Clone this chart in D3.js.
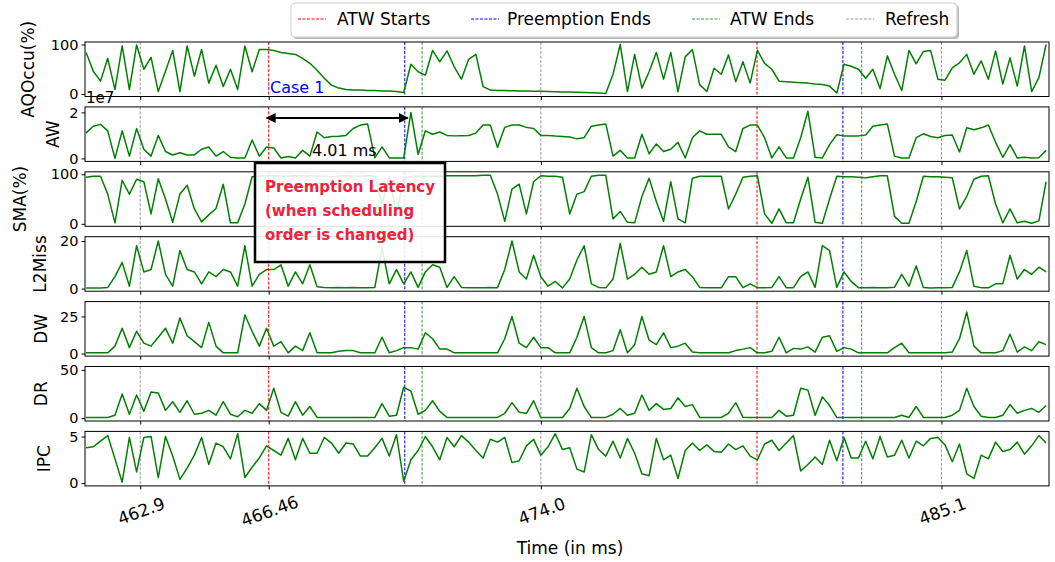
<!DOCTYPE html>
<meta charset="utf-8">

<style>
    body { margin: 0; background: #fff; }
    svg text { font-family: "DejaVu Sans", sans-serif; }
</style>

<body>

<script src="https://d3js.org/d3.v7.min.js"></script>

<script>

// samples are 0.2 ms apart, starting at 461.4 ms
var sampleStart = 461.4;
var sampleStep = 0.2;

var aqOccu = [84,46,26,72,9,97,9,99,50,74,
    5,46,88,5,97,36,90,22,58,15,
    50,9,97,45,90,90,88,84,82,80,
    72,62,48,32,18,12,9,8,8,7,
    7,6,6,5,3,60,45,38,88,65,
    87,55,30,70,80,15,8,7,7,6.5,
    6,6,5.7,5.5,5,4.5,4.3,4,3.5,3,
    2.5,2,1,40,100,5,80,12,45,84,
    30,84,5,75,90,19,5,52,40,79,
    25,65,22,88,62,50,26,25,24,23,
    22,20,19,16,2,60,56,50,32,50,
    11,77,40,7,88,61,86,88,30,28,
    53,63,80,40,67,30,87,20,73,16,
    97,5,33,100];

// AW in units of 1e7
var aw = [1.11,1.4,1.48,1.2,0,1.2,0.1,1.3,0.4,0.1,
    1.0,0.3,0.15,0.25,0.15,0.15,0.4,0.5,0.1,0.3,
    0.05,0.02,0.02,0.8,0.1,0.5,0.45,0.02,0.08,0.02,
    0.35,0.1,1.15,0.9,0.95,0.96,1.0,1.3,1.45,1.5,
    0.02,0.5,0.02,0.02,0.02,2.0,0.17,1.2,1.05,1.15,
    1.0,0.98,0.99,1.0,1.1,1.45,1.45,0.48,1.35,1.45,
    1.45,1.35,1.3,1.0,1.0,0.97,0.95,0.93,0.85,0.9,
    1.4,1.45,1.5,0.1,0.35,0.02,0.02,1.05,0.2,0.63,
    0.3,0.4,0.7,0.02,0.9,1.2,1.05,1.05,1.05,0.5,
    0.3,1.3,1.45,1.45,0.9,0.02,0.5,0.02,0.02,0.9,
    2.05,0.05,0.02,0.6,1.03,0.98,0.98,0.98,1.02,1.4,
    1.45,1.5,0.1,0.02,0.02,0.9,1.07,0.95,0.9,1.0,
    1.02,0.28,1.33,1.25,1.33,1.45,0.7,0.05,0.6,0.02,
    0.05,0.02,0.03,0.35];

var sma = [94,96,96,60,2,88,60,90,85,20,
    91,50,3,60,78,30,4,18,31,80,
    2,2,40,95,96,97,97,96,96,97,
    96,97,96,96,95,96,97,96,96,97,
    96,40,95,20,90,96,96,96,96,96,
    97,97,97,97,97,98,98,60,5,70,
    80,20,85,97,96,96,94,20,60,65,
    96,98,98,10,25,3,2,55,92,45,
    5,85,10,2,92,96,96,96,96,30,
    60,94,96,97,20,1,30,2,2,50,
    94,3,1,50,96,95,95,94,93,95,
    97,97,15,1,1,45,96,95,95,94,
    93,30,55,90,96,97,40,2,30,2,
    5,1,6,85];

var l2Miss = [0.2,0.2,0.2,0.5,5,11,1,18,7,8,
    20,6,1,16,8,7,2,7,5,8,
    7,1,18,1,6,8,8,10,1,7,
    2,10,0.8,0.5,0.3,0.5,0.4,0.5,0.3,0.4,
    0.5,17,2,8,2,7,0.5,7,10,9,
    0.5,5,0.5,0.3,0.4,0.3,0.5,0.4,8,20,
    7,4,14,5,1,3,0.3,4,12,18,
    2,0.5,0.3,4,19,4,6,9,6,7,
    18,5,7,8,5,0.5,0.4,0.3,0.3,5,
    5,0.4,2,0.4,0.4,0.5,5,0.4,0.4,5,
    7,0.5,18,16,0.5,7,3,0.4,0.4,0.5,
    0.3,0.4,0.6,6,1,9.5,0.5,0.2,0.3,0.4,
    0.5,7,16,1,0.4,0.3,2,2,14,4,
    8,6,9,7];

var dw = [0.5,0.5,0.5,0.5,5,17,4,15,7,5,
    11,17,7,24,12,8,4,21,5,0.5,
    0.5,0.5,26,15,5,17,5,8,0.5,5,
    2,14,0.5,0.5,0.5,1.5,2,2,0.5,0.5,
    0.5,11,0.5,2,4,4,3,14,10,3,
    3,0.5,0.5,0.5,0.5,0.5,0.5,0.5,10,25,
    7,4,11,4,4,0.5,0.5,0.5,11,25,
    4,0.5,0.5,2,16,0.5,6,25,9,6,
    14,4,5,7,1,0.5,0.5,0.5,0.5,0.5,
    2,3,4,0.5,0.5,1.5,11,0.5,3.5,3,
    4.5,1,11,12,1.5,4,3,0.5,0.5,0.5,
    0.5,0.5,4,7,0.5,0.5,0.5,0.5,0.5,0.5,
    1,10,28,5,0.5,0.5,0.5,2,13,1,
    4.5,2,8,6];

var dr = [0.7,0.7,0.7,0.7,3,25,4,24,7,27,
    26,8,17,6,18,4,5,8,3,17,
    4,1.4,8,5,15,8,31,6,2,17,
    3,12,0.7,0.7,0.7,0.7,0.7,0.7,0.7,0.7,
    0.7,15,2,3,32,28,4,8,18,7,
    0.7,0.7,0.7,0.7,0.7,0.7,0.7,0.7,5,16,
    6,5,18,0.7,0.7,0.7,0.7,10,31,12,
    0.7,0.7,0.7,4,10,3,5,24,8,15,
    9,10,21,12,14,0.7,0.7,0.7,0.7,5,
    16,1,0.7,0.7,0.7,0.7,8,2,3,31,
    29,3,22,13,0.7,0.7,0.7,0.7,0.7,0.7,
    0.7,0.7,0.7,3,0.7,12,0.7,0.7,0.7,0.7,
    3,8,31,12,2,0.7,0.7,3,14,5,
    8,10,6,13];

var ipc = [3.8,3.9,4.5,5.1,2.6,0.1,4.9,1.2,4.9,5.0,
    0.6,5.0,2.9,0.4,1.6,3.0,4.9,2.0,4.3,3.9,
    2.6,5.3,0.6,1.7,2.7,4.0,3.5,3.0,4.8,2.5,
    4.8,3.2,3.2,4.9,4.3,3.2,4.3,4.2,2.9,2.9,
    3.8,4.8,2.9,5.2,0.2,2.5,3.5,5.0,3.9,2.5,
    4.9,3.9,5.1,4.4,3.5,2.7,4.7,4.4,4.9,2.2,
    2.4,4.0,4.7,3.0,3.9,5.3,3.6,3.8,1.5,1.2,
    5.2,3.6,2.9,4.5,2.7,4.8,3.2,1.0,0.8,4.8,
    2.5,3.0,0.5,3.5,4.3,3.5,4.1,3.4,3.3,4.2,
    3.6,4.0,2.9,2.5,4.2,4.6,3.5,4.3,5.1,1.3,
    2.0,2.8,2.0,4.6,2.4,4.9,2.7,2.7,4.5,2.6,
    5.0,2.8,3.0,4.6,2.7,4.5,4.0,4.8,4.9,4.1,
    2.3,4.2,1.0,0.5,3.0,2.6,4.4,3.4,3.6,4.4,
    3.1,4.0,5.1,4.3];

var xTicks = [462.9, 466.46, 474.0, 485.1];
var xTickLabels = ['462.9', '466.46', '474.0', '485.1'];

// event markers (ms)
var atwStarts = [466.46, 479.99];
var preemptionEnds = [470.23, 482.37];
var atwEnds = [470.71, 482.89];
var refreshes = [462.9, 474.0, 485.1];

var legendNames = ['ATW Starts', 'Preemption Ends', 'ATW Ends', 'Refresh'];

var panels = [
    {name: 'AQOccu(%)', values: aqOccu, domain: [-5, 105], ticks: [0, 100], labelX: 28},
    {name: 'AW', values: aw, domain: [-0.13, 2.24], ticks: [0, 2], labelX: 53},
    {name: 'SMA(%)', values: sma, domain: [-5, 105], ticks: [0, 100], labelX: 20},
    {name: 'L2Miss', values: l2Miss, domain: [-1.1, 21.8], ticks: [0, 20], labelX: 40},
    {name: 'DW', values: dw, domain: [-1.7, 35], ticks: [0, 25], labelX: 41},
    {name: 'DR', values: dr, domain: [-3, 53.5], ticks: [0, 50], labelX: 41},
    {name: 'IPC', values: ipc, domain: [-0.3, 5.55], ticks: [0, 5], labelX: 44}
];

var markerSets = [
    {times: atwStarts, color: '#ff0000'},
    {times: preemptionEnds, color: '#0000ff'},
    {times: atwEnds, color: '#3a9a3a'},
    {times: refreshes, color: '#999999'}
];

var width = 1055, height = 562;
var panelTop = 42, panelStep = 64.9, panelHeight = 54.5;

var svg = d3.select('body').append('svg')
    .attr('width', width)
    .attr('height', height);

var x = d3.scaleLinear()
    .domain([461.37, 488.08])
    .range([85, 1049]);

var defs = svg.append('defs');

panels.forEach(function(p, k) {
    var top = panelTop + k * panelStep;
    var y = d3.scaleLinear()
        .domain(p.domain)
        .range([panelHeight, 0]);

    var g = svg.append('g')
        .attr('transform', 'translate(0,' + top + ')');

    defs.append('clipPath')
        .attr('id', 'clip' + k)
        .append('rect')
        .attr('x', x.range()[0])
        .attr('y', 0)
        .attr('width', x.range()[1] - x.range()[0])
        .attr('height', panelHeight);

    var plot = g.append('g').attr('clip-path', 'url(#clip' + k + ')');

    // dashed event lines
    markerSets.forEach(function(m) {
        plot.selectAll(null)
            .data(m.times)
            .enter()
            .append('line')
            .attr('x1', function(d) { return x(d); })
            .attr('x2', function(d) { return x(d); })
            .attr('y1', 0)
            .attr('y2', panelHeight)
            .attr('stroke', m.color)
            .attr('stroke-width', 1)
            .attr('stroke-dasharray', '3,1.5');
    });

    var line = d3.line()
        .x(function(d, i) { return x(sampleStart + i * sampleStep); })
        .y(function(d) { return y(d); });

    plot.append('path')
        .datum(p.values)
        .attr('d', line)
        .attr('fill', 'none')
        .attr('stroke', '#007f00')
        .attr('stroke-width', 1.5)
        .attr('stroke-linejoin', 'round');

    g.append('rect')
        .attr('x', x.range()[0])
        .attr('y', 0)
        .attr('width', x.range()[1] - x.range()[0])
        .attr('height', panelHeight)
        .attr('fill', 'none')
        .attr('stroke', '#000')
        .attr('stroke-width', 1);

    // y axis
    var yAxis = g.append('g')
        .attr('transform', 'translate(' + x.range()[0] + ',0)')
        .call(d3.axisLeft(y).tickValues(p.ticks).tickSize(3.5).tickPadding(3)
            .tickFormat(d3.format('d')));
    yAxis.select('.domain').remove();
    yAxis.selectAll('text')
        .attr('font-family', '"DejaVu Sans", sans-serif')
        .attr('font-size', 14.5)
        .attr('fill', '#000');

    // bottom ticks on every panel, labels only on the last
    var xAxis = g.append('g')
        .attr('transform', 'translate(0,' + panelHeight + ')')
        .call(d3.axisBottom(x).tickValues(xTicks).tickSize(3.5).tickFormat(''));
    xAxis.select('.domain').remove();

    g.append('text')
        .attr('transform', 'translate(' + p.labelX + ',' + (panelHeight / 2) + ') rotate(-90)')
        .attr('text-anchor', 'middle')
        .attr('dominant-baseline', 'central')
        .attr('font-size', 17)
        .text(p.name);
});

// rotated x tick labels
svg.selectAll('.xlabel')
    .data(xTicks)
    .enter()
    .append('text')
    .attr('class', 'xlabel')
    .attr('transform', function(d) { return 'translate(' + (x(d) + 1) + ',511) rotate(-20)'; })
    .attr('text-anchor', 'middle')
    .attr('dominant-baseline', 'central')
    .attr('font-size', 17)
    .text(function(d, i) { return xTickLabels[i]; });

svg.append('text')
    .attr('x', 570)
    .attr('y', 554)
    .attr('text-anchor', 'middle')
    .attr('font-size', 17)
    .text('Time (in ms)');

// offset text of AW
svg.append('text')
    .attr('x', 86)
    .attr('y', 103)
    .attr('font-size', 15)
    .text('1e7');

// Case 1 and the latency arrow
svg.append('text')
    .attr('x', 270)
    .attr('y', 93)
    .attr('font-size', 16)
    .attr('fill', '#0000ff')
    .text('Case 1');

defs.append('marker')
    .attr('id', 'arrowhead')
    .attr('viewBox', '0 0 10 10')
    .attr('refX', 9)
    .attr('refY', 5)
    .attr('markerWidth', 5)
    .attr('markerHeight', 5)
    .attr('orient', 'auto-start-reverse')
    .append('path')
    .attr('d', 'M0,0 L10,5 L0,10 z')
    .attr('fill', '#000');

svg.append('line')
    .attr('x1', x(atwStarts[0]) - 2)
    .attr('x2', x(preemptionEnds[0]) + 3)
    .attr('y1', 118)
    .attr('y2', 118)
    .attr('stroke', '#000')
    .attr('stroke-width', 2)
    .attr('marker-start', 'url(#arrowhead)')
    .attr('marker-end', 'url(#arrowhead)');

svg.append('text')
    .attr('x', 312)
    .attr('y', 156)
    .attr('font-size', 16)
    .text('4.01 ms');

// annotation box
var note = svg.append('g');
note.append('rect')
    .attr('x', 255)
    .attr('y', 163)
    .attr('width', 190)
    .attr('height', 99)
    .attr('fill', '#fff')
    .attr('fill-opacity', 0.88)
    .attr('stroke', '#000')
    .attr('stroke-width', 2.5);

note.selectAll('text')
    .data(['Preemption Latency', '(when scheduling', 'order is changed)'])
    .enter()
    .append('text')
    .attr('x', 265)
    .attr('y', function(d, i) { return 192 + i * 24; })
    .attr('font-size', 15)
    .attr('font-weight', 'bold')
    .attr('fill', '#f0213b')
    .text(function(d) { return d; });

// legend
var legend = svg.append('g');
legend.append('rect')
    .attr('x', 293)
    .attr('y', 5)
    .attr('width', 666)
    .attr('height', 34)
    .attr('rx', 4)
    .attr('fill', '#bbb');
legend.append('rect')
    .attr('x', 291)
    .attr('y', 3)
    .attr('width', 666)
    .attr('height', 34)
    .attr('rx', 4)
    .attr('fill', '#fff')
    .attr('stroke', '#d0d0d0')
    .attr('stroke-width', 1);

var legendDashX = [298, 471, 692, 846];
var legendTextX = [337, 507, 730, 885];

markerSets.forEach(function(m, i) {
    legend.append('line')
        .attr('x1', legendDashX[i])
        .attr('x2', legendDashX[i] + 28)
        .attr('y1', 19)
        .attr('y2', 19)
        .attr('stroke', m.color)
        .attr('stroke-width', 1)
        .attr('stroke-dasharray', '3,1.5');
    legend.append('text')
        .attr('x', legendTextX[i])
        .attr('y', 25)
        .attr('font-size', 17)
        .text(legendNames[i]);
});

</script>
</body>
